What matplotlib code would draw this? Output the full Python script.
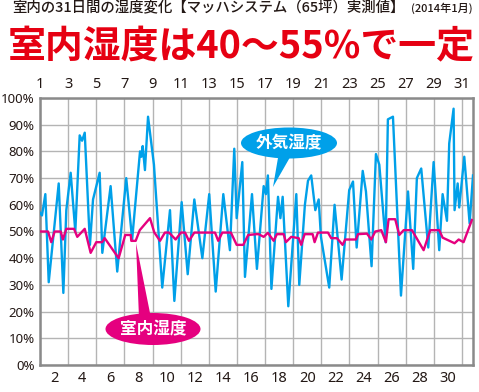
import matplotlib

matplotlib.use("Agg")
import matplotlib.pyplot as plt
from matplotlib.patches import Ellipse, Polygon

plt.rcParams["font.family"] = ["Noto Sans CJK JP", "DejaVu Sans"]

# 外気湿度 (day position, %RH)
outdoor_day = [1.00, 1.14, 1.38, 1.62, 2.33, 2.66, 2.87, 3.18, 3.51, 3.82, 3.99, 4.18,
               4.55, 4.77, 5.24, 5.43, 6.02, 6.49, 7.13, 7.55, 8.11, 8.21, 8.30, 8.46,
               8.68, 9.10, 9.69, 10.24, 10.55, 11.07, 11.50, 11.97, 12.54, 13.03, 13.49,
               14.03, 14.50, 14.81, 14.98, 15.38, 15.57, 16.07, 16.42, 16.90, 17.06, 17.20,
               17.45, 17.92, 18.09, 18.25, 18.65, 19.22, 19.43, 19.83, 20.05, 20.28, 20.57,
               20.81, 20.97, 21.56, 21.94, 22.44, 22.98, 23.25, 23.51, 23.94, 24.17, 24.57,
               24.88, 25.12, 25.57, 25.73, 26.09, 26.66, 27.16, 27.53, 27.79, 28.10, 28.60,
               28.98, 29.38, 29.62, 29.93, 30.09, 30.40, 30.47, 30.69, 30.80, 31.16, 31.54,
               31.78]
outdoor_rh = [57, 56, 64, 31, 68, 27, 58, 72, 50, 86, 84, 87,
              45, 62, 72, 42, 67, 35, 70, 47, 80, 78, 82, 73,
              93, 75, 29, 58, 24, 61, 34, 62, 40, 64, 27.5,
              64, 43, 81, 55, 76, 33, 64, 36, 67, 64, 71,
              28.5, 63, 55, 63, 22, 64, 30, 60, 69, 71, 58,
              62, 48, 29, 60, 32, 65.5, 68.7, 44, 72.7, 65, 37,
              79, 75, 46, 92, 93, 26, 65, 36, 70, 73.6, 44,
              76, 43, 64, 54, 83, 96, 58, 68, 59, 78, 53,
              71]

# 室内湿度 (day position, %RH)
indoor_day = [1.00, 1.57, 1.80, 2.04, 2.47, 2.63, 2.87, 3.42, 3.65, 4.18, 4.60, 5.00,
              5.41, 5.60, 6.59, 7.06, 7.45, 7.49, 7.80, 8.09, 8.82, 9.12, 9.53, 9.88,
              10.17, 10.64, 11.02, 11.31, 11.59, 11.97, 13.44, 13.67, 13.96, 14.57, 14.98,
              15.45, 15.80, 16.40, 16.54, 16.90, 17.20, 17.61, 17.84, 18.32, 18.48, 18.86,
              19.39, 19.57, 19.81, 20.38, 20.52, 20.76, 21.47, 21.70, 22.11, 22.51, 22.70,
              23.46, 23.60, 24.24, 24.55, 24.83, 25.26, 25.59, 25.78, 26.25, 26.54, 26.85,
              27.44, 28.27, 28.74, 29.38, 29.62, 30.47, 30.76, 31.11, 31.70]
indoor_rh = [50, 50, 46, 50, 50, 47, 51, 51, 48, 51, 42, 46,
             46, 47.5, 40, 48.7, 48.7, 46.5, 46.5, 50.5, 55, 49.7, 46.5, 49.6,
             49.6, 47, 49.6, 49.6, 46.5, 49.6, 49.6, 46.5, 49.6, 49.6, 45,
             45, 48.7, 49, 49, 48, 49.5, 46.5, 49, 49, 46, 48,
             47.5, 45, 49, 49, 46, 49.6, 49.6, 47.5, 47.5, 45, 47,
             47, 49, 49.2, 47, 50, 50.5, 46, 54.6, 54.6, 48.7, 50.5,
             50.5, 43, 50.5, 50.5, 47.7, 45.6, 47, 46, 54.3]

top_days = list(range(1, 32, 2))
bottom_days = list(range(2, 31, 2))
y_ticks = list(range(0, 101, 10))

BLUE = "#00a0e9"
PINK = "#e5007f"
RED = "#e60012"
INK = "#231815"
W, H = 479, 392

fig = plt.figure(figsize=(W / 100, H / 100), dpi=100)
ax = fig.add_axes([40 / W, 1 - 365 / H, 433 / W, 267 / H])
ax.set_xlim(1, 31.78)
ax.set_ylim(0, 100)

# grid: every day, every 10%
ax.set_xticks(range(1, 32), minor=True)
ax.set_xticks(bottom_days)
ax.set_xticklabels([str(d) for d in bottom_days])
ax.set_yticks(y_ticks)
ax.set_yticklabels([f"{v}%" for v in y_ticks])
ax.grid(which="minor", axis="x", color="#b4b4b4", lw=1.0, zorder=0)
ax.grid(which="major", axis="y", color="#b4b4b4", lw=1.0, zorder=0)
ax.tick_params(which="both", length=0)
ax.tick_params(axis="x", pad=4, labelsize=10.5, labelcolor=INK)
ax.tick_params(axis="y", pad=4, labelsize=9.5, labelcolor=INK)
for lab in ax.get_xticklabels() + ax.get_yticklabels():
    lab.set_family("Noto Sans")

top = ax.secondary_xaxis("top")
top.set_xticks(top_days)
top.set_xticklabels([str(d) for d in top_days])
top.tick_params(length=0, pad=4, labelsize=10.5, labelcolor=INK)
for lab in top.get_xticklabels():
    lab.set_family("Noto Sans")
top.spines["top"].set_visible(False)

for s in ax.spines.values():
    s.set_color("#8a8a8a")
    s.set_linewidth(1.8)

ax.plot(outdoor_day, outdoor_rh, color=BLUE, lw=1.7, zorder=3, clip_on=True)
ax.plot(indoor_day, indoor_rh, color=PINK, lw=1.7, zorder=4, clip_on=True)

# overlay in pixel coordinates for titles and callouts
ov = fig.add_axes([0, 0, 1, 1], zorder=5)
ov.set_xlim(0, W)
ov.set_ylim(H, 0)
ov.axis("off")

ov.text(12, 8, "室内の31日間の湿度変化【マッハシステム（65坪）実測値】",
        fontsize=10.4, fontweight="medium", color=INK, va="center", ha="left")
ov.text(411, 8.5, "(2014年1月)", fontsize=8, fontweight="medium", color=INK,
        va="center", ha="left")
ov.text(8, 47, "室内湿度は40〜55%で一定", fontsize=27.3, fontweight="bold",
        color=RED, va="center", ha="left")

# 外気湿度 callout
ov.add_patch(Polygon([(279, 152), (293, 152), (273, 187)], closed=True, color=BLUE, lw=0))
ov.add_patch(Ellipse((289, 143), 96, 31, color=BLUE, lw=0))
ov.text(289, 143, "外気湿度", fontsize=12, fontweight="bold", color="white",
        ha="center", va="center")

# 室内湿度 callout
ov.add_patch(Polygon([(139, 318), (151, 318), (136, 243)], closed=True, color=PINK, lw=0))
ov.add_patch(Ellipse((153, 329), 95, 32, color=PINK, lw=0))
ov.text(153, 329, "室内湿度", fontsize=12, fontweight="bold", color="white",
        ha="center", va="center")

fig.savefig("out.png", dpi=100)
plt.close(fig)
